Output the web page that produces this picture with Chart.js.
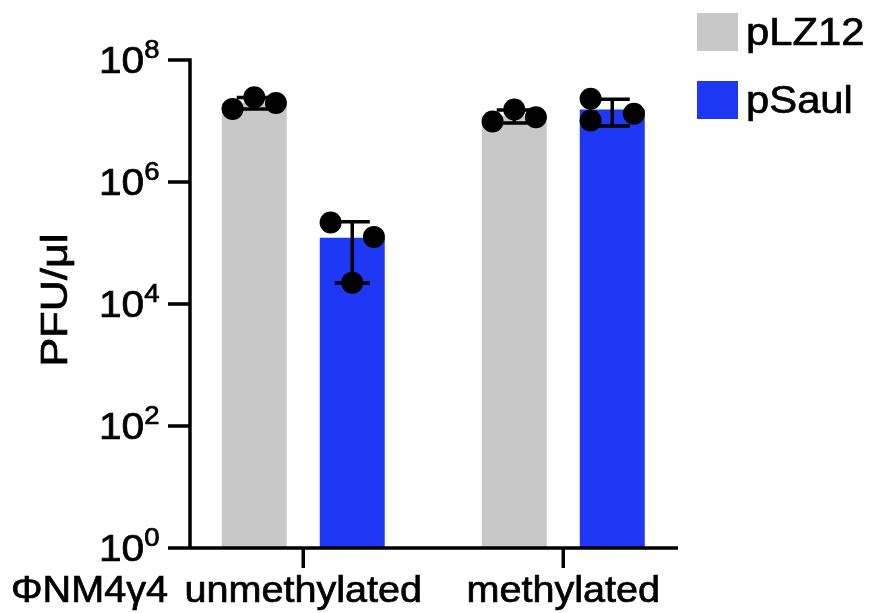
<!DOCTYPE html>
<html>
<head>
<meta charset="utf-8">
<script src="https://cdn.jsdelivr.net/npm/chart.js@4"></script>
<style>
html,body{margin:0;padding:0;background:#fff;}
#wrap{width:870px;height:613px;}
</style>
</head>
<body>
<div id="wrap"><canvas id="c" width="870" height="613"></canvas></div>
<script>
// ---- data ----
const categories = ['unmethylated', 'methylated'];
const groupLabel = 'ΦNM4γ4';
const seriesNames = ['pLZ12', 'pSaul'];
const pLZ12Mean = [2.0e7, 1.22e7];
const pSaulMean = [1.22e5, 1.55e7];
const pLZ12SD = [0.43e7, 0.29e7];
const pSaulSD = [1.0e5, 0.72e7];
const pLZ12Reps = [[1.58e7, 2.45e7, 1.98e7], [9.8e6, 1.54e7, 1.15e7]];
const pSaulReps = [[2.17e5, 1.26e5, 2.24e4], [2.31e7, 1.31e7, 1.02e7]];
const pLZ12Slots = [[-1, 0, 1], [-1, 0, 1]];
const pSaulSlots = [[-1, 1, 0], [-1, 1, -1]];
const yTickValues = [1, 1e2, 1e4, 1e6, 1e8];
const yTickExponents = ['0', '2', '4', '6', '8'];
const yTitle = 'PFU/μl';
const seriesColors = ['#c8c8c8', '#1e38f5'];

const FONT = '"Liberation Sans", Arial, Helvetica, sans-serif';
const SX = 1.1; // horizontal text stretch seen in the reference
const TEXT_STROKE = 0.7;

function drawText(ctx, s, x, y, size, align) {
  ctx.save();
  ctx.font = size + 'px ' + FONT;
  ctx.textAlign = align;
  ctx.textBaseline = 'alphabetic';
  ctx.fillStyle = '#000';
  ctx.strokeStyle = '#000';
  ctx.lineWidth = TEXT_STROKE;
  ctx.translate(x, y);
  ctx.scale(SX, 1);
  ctx.fillText(s, 0, 0);
  ctx.strokeText(s, 0, 0);
  ctx.restore();
}
function textW(ctx, s, size) {
  ctx.save();
  ctx.font = size + 'px ' + FONT;
  const w = ctx.measureText(s).width * SX;
  ctx.restore();
  return w;
}

const decorations = {
  id: 'decorations',
  afterDatasetsDraw(chart) {
    const ctx = chart.ctx;
    const ys = chart.scales.y;
    chart.data.datasets.forEach((ds, d) => {
      const meta = chart.getDatasetMeta(d);
      meta.data.forEach((bar, i) => {
        const cx = bar.x;
        const w = bar.width;
        const m = ds.data[i].y;
        const sd = ds.sd[i];
        const yTop = ys.getPixelForValue(m + sd);
        const yBot = ys.getPixelForValue(Math.max(m - sd, 1));
        const capHalf = w * 0.27;
        ctx.save();
        ctx.strokeStyle = '#000';
        ctx.lineWidth = 3.5;
        ctx.beginPath();
        ctx.moveTo(cx, yTop); ctx.lineTo(cx, yBot);
        ctx.moveTo(cx - capHalf, yTop); ctx.lineTo(cx + capHalf, yTop);
        ctx.moveTo(cx - capHalf, yBot); ctx.lineTo(cx + capHalf, yBot);
        ctx.stroke();
        ctx.fillStyle = '#000';
        ds.reps[i].forEach((v, k) => {
          const px = cx + ds.slots[i][k] * w / 3;
          const py = ys.getPixelForValue(v);
          ctx.beginPath();
          ctx.arc(px, py, 11, 0, Math.PI * 2);
          ctx.fill();
        });
        ctx.restore();
      });
    });
  },
  afterDraw(chart) {
    const ctx = chart.ctx;
    const a = chart.chartArea;
    const xs = chart.scales.x;
    const ys = chart.scales.y;
    ctx.save();
    ctx.strokeStyle = '#000';
    ctx.lineWidth = 3.5;
    ctx.lineCap = 'butt';
    // axes
    ctx.beginPath();
    ctx.moveTo(a.left, a.top - 1.75); ctx.lineTo(a.left, a.bottom + 1.75);
    ctx.moveTo(a.left - 1.75, a.bottom); ctx.lineTo(a.right, a.bottom);
    // y ticks
    yTickValues.forEach(v => {
      const py = ys.getPixelForValue(v);
      ctx.moveTo(a.left - 22, py); ctx.lineTo(a.left, py);
    });
    // x ticks
    categories.forEach((c, i) => {
      const px = xs.getPixelForValue(i + 1);
      ctx.moveTo(px, a.bottom); ctx.lineTo(px, a.bottom + 20);
    });
    ctx.stroke();
    ctx.restore();

    // y tick labels: 10 with superscript exponent
    const right = a.left - 30.5;
    yTickValues.forEach((v, i) => {
      const py = ys.getPixelForValue(v);
      const w10 = textW(ctx, '10', 37);
      const wE = textW(ctx, yTickExponents[i], 25);
      const x0 = right - wE - w10;
      drawText(ctx, '10', x0, py + 13, 37, 'left');
      drawText(ctx, yTickExponents[i], x0 + w10, py - 2, 25, 'left');
    });

    // x category labels
    categories.forEach((c, i) => {
      const px = xs.getPixelForValue(i + 1);
      drawText(ctx, c, px, 602, 36, 'center');
    });
    drawText(ctx, groupLabel, 168, 602, 36, 'right');

    // y title (rotated)
    ctx.save();
    ctx.font = '36px ' + FONT;
    ctx.fillStyle = '#000';
    ctx.strokeStyle = '#000';
    ctx.lineWidth = TEXT_STROKE;
    ctx.textAlign = 'center';
    ctx.textBaseline = 'alphabetic';
    ctx.translate(67, (a.top + a.bottom) / 2 - 4);
    ctx.rotate(-Math.PI / 2);
    ctx.scale(1.2, 1.0);
    ctx.fillText(yTitle, 0, 0);
    ctx.strokeText(yTitle, 0, 0);
    ctx.restore();

    // legend
    chart.data.datasets.forEach((ds, d) => {
      const top = 13 + d * 68;
      ctx.fillStyle = ds.backgroundColor;
      ctx.fillRect(697, top, 41, 38);
      drawText(ctx, ds.label, 746, top + 32, 38, 'left');
    });
  }
};

const ctx = document.getElementById('c').getContext('2d');
new Chart(ctx, {
  type: 'bar',
  data: {
    datasets: [
      {
        label: seriesNames[0],
        data: categories.map((c, i) => ({ x: i + 1, y: pLZ12Mean[i] })),
        backgroundColor: seriesColors[0],
        sd: pLZ12SD, reps: pLZ12Reps, slots: pLZ12Slots
      },
      {
        label: seriesNames[1],
        data: categories.map((c, i) => ({ x: i + 1, y: pSaulMean[i] })),
        backgroundColor: seriesColors[1],
        sd: pSaulSD, reps: pSaulReps, slots: pSaulSlots
      }
    ]
  },
  options: {
    responsive: false,
    animation: false,
    layout: { padding: { left: 190, right: 192, top: 60, bottom: 65 } },
    datasets: { bar: { categoryPercentage: 0.7538, barPercentage: 0.663, borderWidth: 0 } },
    scales: {
      x: {
        type: 'linear', min: 0.5644, max: 2.4413, offset: false, display: false,
        afterBuildTicks: s => { s.ticks = categories.map((c, i) => ({ value: i + 1 })); }
      },
      y: { type: 'logarithmic', min: 1, max: 1e8, display: false }
    },
    plugins: { legend: { display: false }, tooltip: { enabled: false } }
  },
  plugins: [decorations]
});
</script>
</body>
</html>
